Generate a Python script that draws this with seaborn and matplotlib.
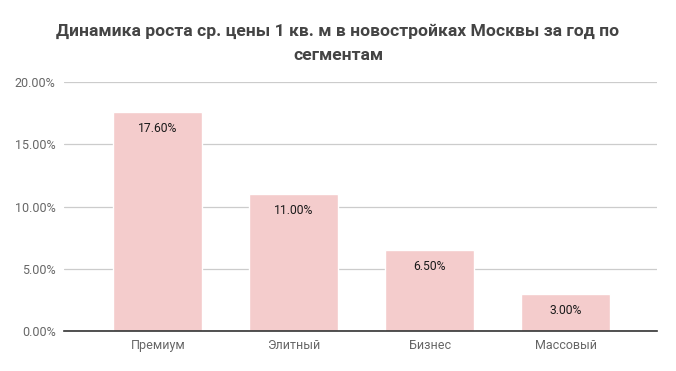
import matplotlib
matplotlib.use("Agg")
import matplotlib.pyplot as plt
import seaborn as sns
import pandas as pd
from matplotlib.ticker import FuncFormatter

categories = ["Премиум", "Элитный", "Бизнес", "Массовый"]
values = [17.60, 11.00, 6.50, 3.00]
yticks = [0, 5, 10, 15, 20]

sns.set_theme(style="white")
plt.rcParams['font.family'] = ['Roboto', 'DejaVu Sans']

df = pd.DataFrame({"segment": categories, "value": values})

fig = plt.figure(figsize=(6.76, 3.71), dpi=100)
ax = fig.add_axes([64/676, 1-331/371, (657-64)/676, (331-82)/371])

sns.barplot(data=df, x="segment", y="value", color="#f4cccc", saturation=1,
            width=0.655, ax=ax, zorder=3)

ax.set_ylim(0, 20)
ax.set_xlim(-0.69, 3.67)
ax.set_yticks(yticks)
ax.yaxis.set_major_formatter(FuncFormatter(lambda v, p: f"{v:.2f}%"))
ax.grid(axis="y", color="#cccccc", linewidth=0.9, zorder=0)
ax.set_axisbelow(True)
for s in ["top", "right", "left"]:
    ax.spines[s].set_visible(False)
ax.spines["bottom"].set_color("#333333")
ax.spines["bottom"].set_linewidth(1.2)
ax.spines["bottom"].set_zorder(5)
ax.tick_params(axis="both", length=0, labelsize=9, colors="#666666")
ax.tick_params(axis="x", pad=6)
ax.tick_params(axis="y", pad=6)
ax.set_xlabel("")
ax.set_ylabel("")

for i, v in enumerate(values):
    ax.annotate(f"{v:.2f}%", xy=(i, v), xytext=(0, -7.5), textcoords="offset points",
                ha="center", va="top", fontsize=8.7, color="#1a1a1a", zorder=6)

fig.text(0.5, 1-43/371, "Динамика роста ср. цены 1 кв. м в новостройках Москвы за год по\nсегментам",
         ha="center", va="center", fontsize=12.6, fontweight="bold", color="#444444",
         linespacing=1.75)
fig.savefig("out.png", dpi=100)
